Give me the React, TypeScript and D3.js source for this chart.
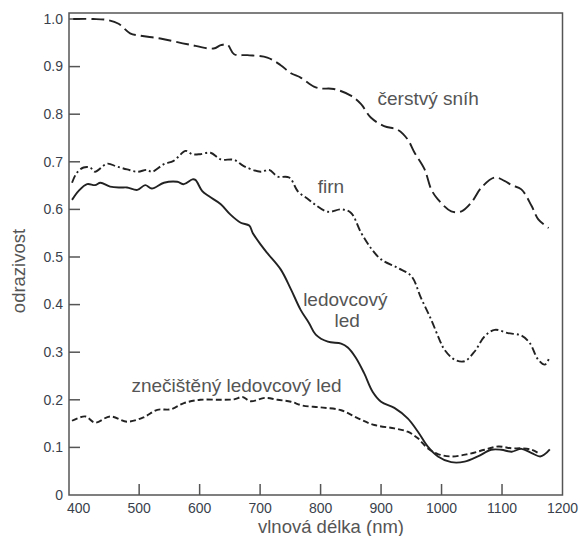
import React from 'react';
import * as d3 from 'd3';

// [vlnová délka nm, odrazivost]
const freshSnow = [
  [391, 1.0], [424, 1.0], [447, 0.998], [466, 0.99], [485, 0.97], [502, 0.965], [535, 0.959],
  [580, 0.947], [623, 0.938], [635, 0.945], [646, 0.946], [657, 0.926], [679, 0.924], [712, 0.919],
  [734, 0.903], [751, 0.886], [767, 0.877], [789, 0.858], [800, 0.854], [822, 0.853], [850, 0.839],
  [867, 0.821], [883, 0.793], [905, 0.775], [928, 0.767], [944, 0.747], [955, 0.72], [972, 0.684],
  [983, 0.642], [994, 0.621], [1016, 0.596], [1033, 0.596], [1049, 0.614], [1066, 0.646],
  [1088, 0.667], [1104, 0.66], [1116, 0.651], [1132, 0.642], [1149, 0.607], [1160, 0.579], [1177, 0.561],
];

const firn = [
  [389, 0.656], [397, 0.677], [408, 0.688], [419, 0.688], [427, 0.679], [447, 0.696], [463, 0.69],
  [480, 0.684], [497, 0.679], [513, 0.683], [521, 0.679], [541, 0.695], [557, 0.702], [577, 0.723],
  [588, 0.716], [601, 0.716], [618, 0.719], [635, 0.705], [657, 0.704], [673, 0.691], [701, 0.679],
  [715, 0.683], [729, 0.669], [748, 0.667], [763, 0.637], [778, 0.623], [790, 0.611], [812, 0.595],
  [834, 0.6], [850, 0.593], [867, 0.551], [883, 0.519], [900, 0.495], [928, 0.477], [950, 0.46],
  [966, 0.414], [983, 0.368], [997, 0.325], [1005, 0.305], [1022, 0.284], [1038, 0.281],
  [1055, 0.302], [1071, 0.333], [1088, 0.347], [1110, 0.34], [1132, 0.335], [1146, 0.319],
  [1160, 0.284], [1171, 0.274], [1179, 0.291],
];

const glacierIce = [
  [389, 0.62], [400, 0.639], [414, 0.653], [427, 0.651], [436, 0.656], [452, 0.648], [469, 0.646],
  [480, 0.646], [497, 0.641], [510, 0.651], [521, 0.644], [541, 0.656], [563, 0.658], [574, 0.653],
  [588, 0.663], [593, 0.662], [604, 0.639], [615, 0.628], [635, 0.611], [651, 0.589], [668, 0.572],
  [682, 0.566], [688, 0.55], [701, 0.526], [712, 0.508], [734, 0.474], [751, 0.432], [767, 0.389],
  [781, 0.361], [792, 0.337], [812, 0.322], [834, 0.318], [845, 0.31], [858, 0.289], [872, 0.256],
  [886, 0.217], [900, 0.196], [922, 0.183], [944, 0.161], [961, 0.133], [977, 0.102], [994, 0.081],
  [1016, 0.069], [1038, 0.07], [1060, 0.081], [1082, 0.095], [1099, 0.095], [1116, 0.091],
  [1132, 0.097], [1149, 0.088], [1163, 0.081], [1171, 0.086], [1179, 0.096],
];

const dirtyIce = [
  [389, 0.156], [411, 0.165], [427, 0.152], [452, 0.165], [480, 0.154], [507, 0.163], [530, 0.179],
  [552, 0.18], [574, 0.193], [601, 0.2], [635, 0.2], [657, 0.201], [671, 0.206], [684, 0.197],
  [708, 0.204], [729, 0.2], [751, 0.196], [770, 0.188], [800, 0.184], [834, 0.178], [862, 0.161],
  [889, 0.147], [922, 0.14], [944, 0.133], [961, 0.119], [977, 0.098], [994, 0.086], [1016, 0.081],
  [1044, 0.086], [1071, 0.095], [1094, 0.102], [1116, 0.098], [1132, 0.098], [1149, 0.095],
  [1160, 0.088],
];

const xTicks = [400, 500, 600, 700, 800, 900, 1000, 1100, 1200];
const yTicks = [0, 0.1, 0.2, 0.3, 0.4, 0.5, 0.6, 0.7, 0.8, 0.9, 1.0];

// popisky křivek: [text, nm, odrazivost]
const curveLabels = [
  ['čerstvý sníh', 978, 0.82],
  ['firn', 817, 0.635],
  ['ledovcový', 841, 0.397],
  ['led', 844, 0.353],
  ['znečištěný ledovcový led', 661, 0.2165],
];

const App = () => {
  const width = 580;
  const height = 536;
  const margin = { left: 69, right: 17.5, top: 13, bottom: 41 };
  const font = '"Liberation Sans", Arial, sans-serif';

  const x = d3.scaleLinear().domain([384, 1200]).range([margin.left, width - margin.right]);
  const y = d3.scaleLinear().domain([0, 1.0126]).range([height - margin.bottom, margin.top]);

  const line = d3.line()
    .x((d) => x(d[0]))
    .y((d) => y(d[1]))
    .curve(d3.curveCatmullRom.alpha(0.5));

  const series = [
    { data: freshSnow, dash: '13,5' },
    { data: firn, dash: '8,3,2,3' },
    { data: glacierIce, dash: null },
    { data: dirtyIce, dash: '6,3' },
  ];

  const x0 = margin.left;
  const x1 = width - margin.right;
  const y0 = height - margin.bottom;
  const y1 = margin.top;

  return (
    <svg width={width} height={height} style={{ position: 'absolute', left: 0, top: 0 }}>
      <rect x={0} y={0} width={width} height={height} fill="white" />
      <rect x={x0} y={y1} width={x1 - x0} height={y0 - y1} fill="none" stroke="#555" strokeWidth={1.5} />

      {yTicks.map((t) => (
        <g key={'y' + t}>
          {t > 0 && <line x1={x0} x2={x0 + 11} y1={y(t)} y2={y(t)} stroke="#555" strokeWidth={1.5} />}
          <text x={x0 - 6} y={y(t)} dy="0.35em" textAnchor="end" fontSize={14} fontFamily={font} fill="#3a3f4c">
            {t === 0 ? '0' : t.toFixed(1)}
          </text>
        </g>
      ))}

      {xTicks.map((t) => (
        <g key={'x' + t}>
          {t > 400 && t < 1200 && <line x1={x(t)} x2={x(t)} y1={y0} y2={y0 - 11} stroke="#555" strokeWidth={1.5} />}
          <text x={x(t)} y={513} textAnchor="middle" fontSize={14} fontFamily={font} fill="#3a3f4c">
            {t}
          </text>
        </g>
      ))}

      {series.map((s, i) => (
        <path
          key={i}
          d={line(s.data)}
          fill="none"
          stroke="#222"
          strokeWidth={1.9}
          strokeDasharray={s.dash || undefined}
        />
      ))}

      {curveLabels.map((l) => (
        <text key={l[0]} x={x(l[1])} y={y(l[2])} textAnchor="middle" fontSize={19} fontFamily={font} fill="#555">
          {l[0]}
        </text>
      ))}

      <text x={331} y={533} textAnchor="middle" fontSize={18.5} fontFamily={font} fill="#555">
        vlnová délka (nm)
      </text>
      <text
        transform={`translate(25, 271) rotate(-90)`}
        textAnchor="middle"
        fontSize={18.5}
        fontFamily={font}
        fill="#555"
      >
        odrazivost
      </text>
    </svg>
  );
};

export default App;
